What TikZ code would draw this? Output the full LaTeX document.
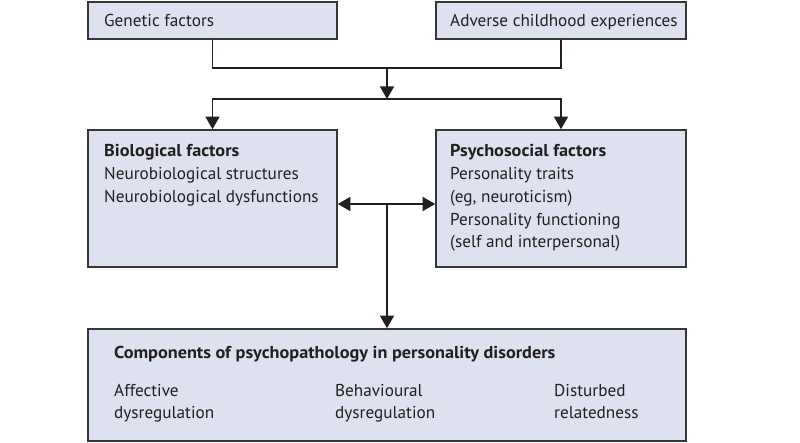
\documentclass[tikz,border=0pt]{standalone}
\usepackage{fontspec}
\setmainfont{PT Sans}[BoldFeatures={FakeStretch=1.06}]
\usetikzlibrary{arrows.meta}
\definecolor{boxfill}{RGB}{222,225,240}
\definecolor{boxline}{RGB}{55,55,58}
\definecolor{ink}{RGB}{35,31,32}
\begin{document}
\begin{tikzpicture}[x=1pt,y=-1pt,
  box/.style={draw=boxline,fill=boxfill,line width=1.6pt,inner sep=0pt},
  txt/.style={text=ink,font=\fontsize{17.2}{21}\selectfont,inner sep=0pt,anchor=base west},
  link/.style={draw=ink,line width=1.4pt},
  tip/.style={-{Triangle[length=12.5pt,width=14pt]}}]
\useasboundingbox (0,0) rectangle (800,443);

\node[box,minimum width=249pt,minimum height=37pt] (gen) at (212.5,20.5) {};
\node[box,minimum width=250pt,minimum height=37pt] (adv) at (561,20.5) {};
\node[box,minimum width=249pt,minimum height=137pt] (bio) at (212.5,198.5) {};
\node[box,minimum width=250pt,minimum height=137pt] (psy) at (561,198.5) {};
\node[box,minimum width=598pt,minimum height=112pt] (comp) at (387,385) {};

\node[txt] (gentxt) at (104,27) {Genetic factors};
\node[txt] (advtxt) at (450,27) {Adverse childhood experiences};

\node[txt] (biohead) at (104,157) {\bfseries Biological factors};
\node[txt] (bioa) at (104,180) {Neurobiological structures};
\node[txt] (biob) at (104,203) {Neurobiological dysfunctions};

\node[txt] (psyhead) at (450,157) {\bfseries Psychosocial factors};
\node[txt] (psya) at (450,180) {Personality traits};
\node[txt] (psyb) at (450,203) {(eg, neuroticism)};
\node[txt] (psyc) at (450,225.5) {Personality functioning};
\node[txt] (psyd) at (450,248) {(self and interpersonal)};

\node[txt] (comphead) at (114,358) {\bfseries Components of psychopathology in personality disorders};
\node[txt] (affa) at (114,396) {Affective};
\node[txt] (affb) at (114,418) {dysregulation};
\node[txt] (beha) at (335,396) {Behavioural};
\node[txt] (behb) at (335,418) {dysregulation};
\node[txt] (disa) at (554,396) {Disturbed};
\node[txt] (disb) at (554,418) {relatedness};

\coordinate (join) at (387,68);
\coordinate (split) at (387,99);
\coordinate (mid) at (387,204);

\draw[link] (gen.south) |- (join);
\draw[link] (adv.south) |- (join);
\draw[link,tip] (join) -- (split);
\draw[link,tip] (split) -| (bio.north);
\draw[link,tip] (split) -| (psy.north);

\draw[link,{Triangle[length=12.5pt,width=14pt]}-{Triangle[length=12.5pt,width=14pt]}] (bio.east |- mid) -- (psy.west |- mid);
\draw[link,tip] (mid) -- (comp.north);
\end{tikzpicture}
\end{document}
